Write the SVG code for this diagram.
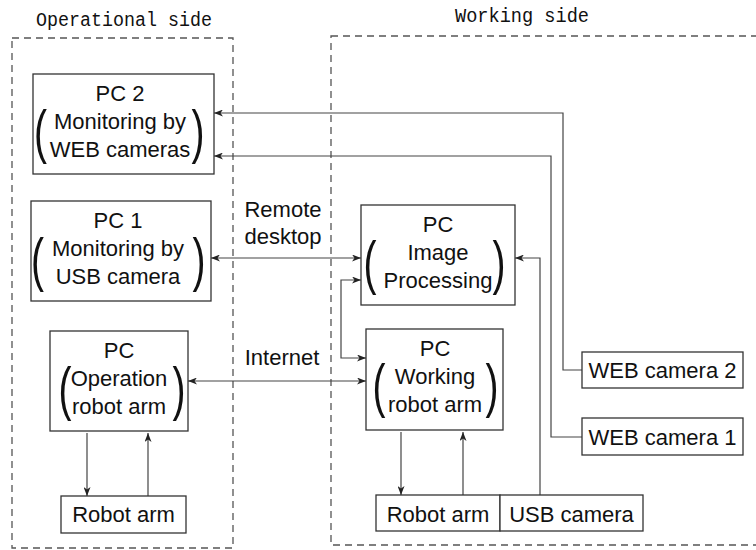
<svg xmlns="http://www.w3.org/2000/svg" width="756" height="550" viewBox="0 0 756 550">
  <style>
    .zone { fill: none; stroke: #555; stroke-width: 1.3; stroke-dasharray: 7 5; }
    .zone-title { font-family: "Liberation Mono", "DejaVu Sans Mono", monospace; font-size: 20px; fill: #111; }
    .box { fill: #fff; stroke: #333; stroke-width: 1.3; }
    .lbl { font-family: "Liberation Sans", Arial, sans-serif; font-size: 22px; fill: #111; text-anchor: middle; }
    .paren { font-family: "Liberation Sans", Arial, sans-serif; font-size: 30px; fill: #111; text-anchor: middle; }
    .wire { fill: none; stroke: #444; stroke-width: 1.2; }
  </style>
  <defs>
    <marker id="arrow" viewBox="0 0 9 7" refX="9" refY="3.5" markerWidth="9" markerHeight="7" markerUnits="userSpaceOnUse" orient="auto-start-reverse">
      <path d="M0,0 L9,3.5 L0,7 L2.5,3.5 z" fill="#222"/>
    </marker>
  </defs>

  <rect width="756" height="550" fill="#fff"/>

  <!-- site zones -->
  <g id="operational-side">
    <rect class="zone" x="12" y="38" width="221" height="510"/>
    <text class="zone-title" x="36" y="26" textLength="176" lengthAdjust="spacingAndGlyphs">Operational side</text>
  </g>
  <g id="working-side">
    <rect class="zone" x="331" y="36" width="500" height="509"/>
    <text class="zone-title" x="455" y="22" textLength="134" lengthAdjust="spacingAndGlyphs">Working side</text>
  </g>

  <!-- connectors -->
  <g id="connectors">
    <path class="wire" d="M582,370 H563 V113 H214" marker-end="url(#arrow)"/>
    <path class="wire" d="M582,437 H551 V156 H214" marker-end="url(#arrow)"/>
    <path class="wire" d="M211,258 H361" marker-start="url(#arrow)" marker-end="url(#arrow)"/>
    <path class="wire" d="M540,495 V258 H515" marker-end="url(#arrow)"/>
    <path class="wire" d="M361,280 H341 V358 H366" marker-start="url(#arrow)" marker-end="url(#arrow)"/>
    <path class="wire" d="M188,381 H366" marker-start="url(#arrow)" marker-end="url(#arrow)"/>
    <path class="wire" d="M87,433 V496" marker-end="url(#arrow)"/>
    <path class="wire" d="M148,496 V433" marker-end="url(#arrow)"/>
    <path class="wire" d="M401,432 V495" marker-end="url(#arrow)"/>
    <path class="wire" d="M463,495 V432" marker-end="url(#arrow)"/>
    <text class="lbl" x="283" y="217">Remote</text>
    <text class="lbl" x="283" y="244">desktop</text>
    <text class="lbl" x="282" y="365">Internet</text>
  </g>

  <!-- operational side nodes -->
  <g id="pc2">
    <rect class="box" x="33" y="74" width="181" height="100"/>
    <text class="lbl" x="120" y="101">PC 2</text>
    <text class="lbl" x="120" y="129">Monitoring by</text>
    <text class="lbl" x="120" y="157">WEB cameras</text>
    <text class="paren" transform="translate(40.5,152) scale(1.3,2)">(</text>
    <text class="paren" transform="translate(198,152) scale(1.3,2)">)</text>
  </g>
  <g id="pc1">
    <rect class="box" x="31" y="201" width="180" height="100"/>
    <text class="lbl" x="118" y="228">PC 1</text>
    <text class="lbl" x="118" y="256">Monitoring by</text>
    <text class="lbl" x="118" y="284">USB camera</text>
    <text class="paren" transform="translate(37.5,280) scale(1.3,2)">(</text>
    <text class="paren" transform="translate(199,280) scale(1.3,2)">)</text>
  </g>
  <g id="pc-operation">
    <rect class="box" x="50" y="331" width="138" height="100"/>
    <text class="lbl" x="119" y="358">PC</text>
    <text class="lbl" x="119" y="386">Operation</text>
    <text class="lbl" x="119" y="414">robot arm</text>
    <text class="paren" transform="translate(65,409) scale(1.3,2)">(</text>
    <text class="paren" transform="translate(179,409) scale(1.3,2)">)</text>
  </g>
  <g id="robot-arm-operational">
    <rect class="box" x="61" y="496" width="125" height="37"/>
    <text class="lbl" x="123.5" y="522">Robot arm</text>
  </g>

  <!-- working side nodes -->
  <g id="pc-image-processing">
    <rect class="box" x="361" y="205" width="154" height="100"/>
    <text class="lbl" x="438" y="232">PC</text>
    <text class="lbl" x="438" y="260">Image</text>
    <text class="lbl" x="438" y="288">Processing</text>
    <text class="paren" transform="translate(370,283) scale(1.3,2)">(</text>
    <text class="paren" transform="translate(499,283) scale(1.3,2)">)</text>
  </g>
  <g id="pc-working">
    <rect class="box" x="366" y="329" width="137" height="101"/>
    <text class="lbl" x="435" y="356">PC</text>
    <text class="lbl" x="435" y="384">Working</text>
    <text class="lbl" x="435" y="412">robot arm</text>
    <text class="paren" transform="translate(379,406) scale(1.3,2)">(</text>
    <text class="paren" transform="translate(492,406) scale(1.3,2)">)</text>
  </g>
  <g id="robot-arm-working">
    <rect class="box" x="376" y="495" width="124" height="36"/>
    <text class="lbl" x="438" y="522">Robot arm</text>
  </g>
  <g id="usb-camera">
    <rect class="box" x="500" y="495" width="143" height="36"/>
    <text class="lbl" x="571.5" y="522">USB camera</text>
  </g>
  <g id="web-camera-2">
    <rect class="box" x="582" y="352" width="161" height="36"/>
    <text class="lbl" x="662.5" y="378">WEB camera 2</text>
  </g>
  <g id="web-camera-1">
    <rect class="box" x="582" y="418" width="161" height="37"/>
    <text class="lbl" x="662.5" y="445">WEB camera 1</text>
  </g>
</svg>
